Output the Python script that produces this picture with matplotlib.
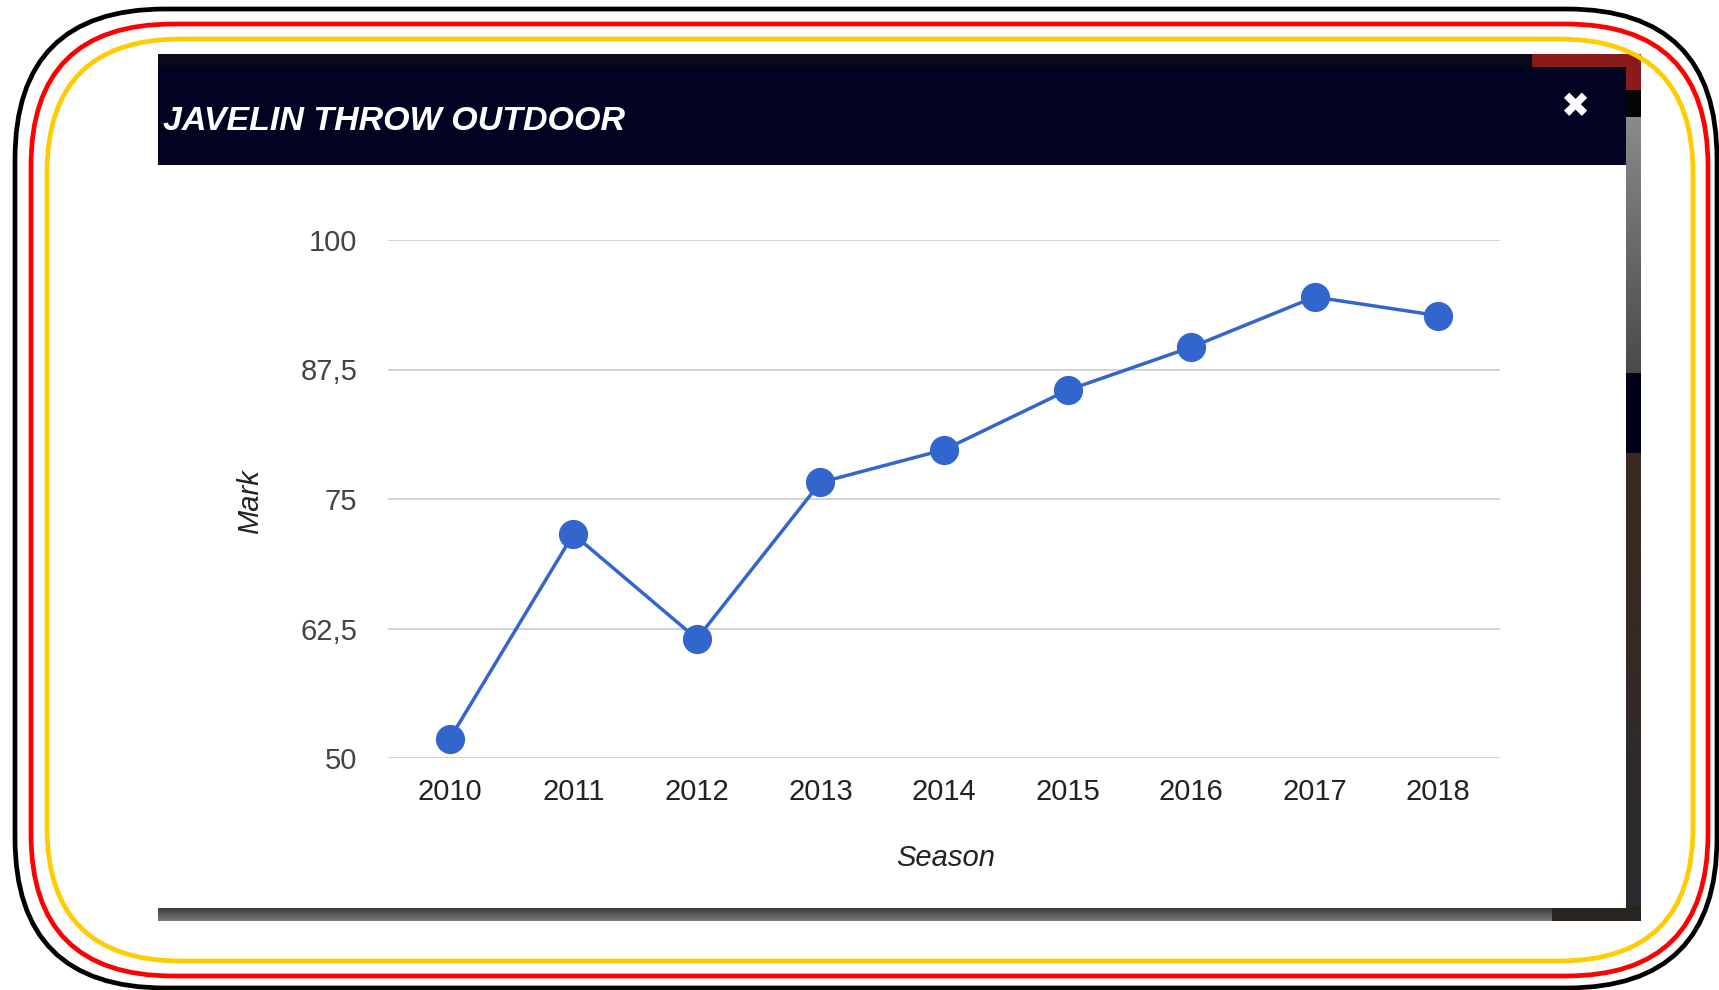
import numpy as np
import matplotlib
matplotlib.use("Agg")
import matplotlib.pyplot as plt
from matplotlib.patches import FancyBboxPatch, Rectangle
from matplotlib import font_manager

# ---------------- data ----------------
seasons = [2010, 2011, 2012, 2013, 2014, 2015, 2016, 2017, 2018]
marks = [51.85, 71.6, 61.5, 76.6, 79.75, 85.5, 89.65, 94.5, 92.7]
y_ticks = [50, 62.5, 75, 87.5, 100]
y_tick_labels = ["50", "62,5", "75", "87,5", "100"]
title_text = "JAVELIN THROW OUTDOOR"
x_title = "Season"
y_title = "Mark"

W, H = 1719, 990
fig = plt.figure(figsize=(W / 100, H / 100), dpi=100)
fig.patch.set_facecolor("white")

def has_font(name):
    try:
        font_manager.findfont(name, fallback_to_default=False)
        return True
    except Exception:
        return False

body_font = "Liberation Sans" if has_font("Liberation Sans") else "DejaVu Sans"
narrow = has_font("Liberation Sans Narrow")
title_font = "Liberation Sans Narrow" if narrow else body_font
title_size = 28 if narrow else 24.5

# ---------------- decoration layer (pixel coordinates) ----------------
bg = fig.add_axes([0, 0, 1, 1], zorder=0)
bg.set_xlim(0, W)
bg.set_ylim(H, 0)
bg.axis("off")

def rrect(x0, y0, x1, y1, r, color, lw):
    p = FancyBboxPatch((x0 + r, y0 + r), (x1 - x0) - 2 * r, (y1 - y0) - 2 * r,
                       boxstyle=f"round,pad={r}", fc="none", ec=color, lw=lw)
    bg.add_patch(p)

def rect(x0, y0, x1, y1, color, z=1):
    bg.add_patch(Rectangle((x0, y0), x1 - x0, y1 - y0, fc=color, ec="none", zorder=z))

def vgrad(x0, y0, x1, y1, c_top, c_bot, z=1):
    c_top = np.array(matplotlib.colors.to_rgb(c_top))
    c_bot = np.array(matplotlib.colors.to_rgb(c_bot))
    t = np.linspace(0, 1, 64)[:, None]
    img = (c_top * (1 - t) + c_bot * t)[:, None, :]
    bg.imshow(img, extent=(x0, x1, y1, y0), aspect="auto", zorder=z, interpolation="bilinear")

# page pieces behind the dialog
rect(158, 54, 1641, 67, "#0a0a1c")
rect(1532, 54, 1641, 90, "#8a1a1c")
rect(1626, 90, 1641, 117, "#050508")
vgrad(1626, 117, 1641, 373, "#8a8a8a", "#4a4a4a")
rect(1626, 373, 1641, 453, "#00001a")
vgrad(1626, 453, 1641, 921, "#3a2a1e", "#2a2a30")
vgrad(158, 908, 1641, 921, "#3c3c3c", "#7a7a7a")
rect(1552, 906, 1641, 921, "#2a2420")

# dialog
rect(158, 67, 1626, 165, "#020222", z=2)
rect(158, 165, 1626, 908, "#ffffff", z=2)
bg.set_xlim(0, W)
bg.set_ylim(H, 0)

# frames
rrect(15, 9, 1717, 988, 150, "black", 3.4)
rrect(31, 24, 1708, 976, 142, "#ff0000", 3.4)
rrect(47, 39, 1693, 961, 134, "#ffcc00", 3.4)

# header texts
fig.text(163 / W, 1 - 130 / H, title_text, color="white", fontsize=title_size,
         fontweight="bold", fontstyle="italic", family=title_font,
         va="baseline", ha="left", zorder=5)
fig.text(1575 / W, 1 - 107 / H, "\u2716", color="white", fontsize=25,
         family="DejaVu Sans", ha="center", va="center", zorder=5)

# ---------------- chart ----------------
ax = fig.add_axes([388 / W, 1 - 758 / H, (1500 - 388) / W, (758 - 240) / H], zorder=3)
ax.patch.set_alpha(0)
ax.plot(seasons, marks, color="#3366cc", lw=2.5, marker="o", markersize=20,
        markerfacecolor="#3366cc", markeredgecolor="#3366cc", zorder=3, clip_on=False)
ax.set_xlim(2009.5, 2018.5)
ax.set_ylim(50, 100)
ax.set_yticks(y_ticks)
ax.set_yticklabels(y_tick_labels)
ax.set_xticks(seasons)
ax.set_xticklabels([str(s) for s in seasons])
ax.grid(axis="y", color="#cccccc", lw=1.2)
ax.set_axisbelow(True)
for s in ax.spines.values():
    s.set_visible(False)
ax.tick_params(axis="y", length=0, pad=22, labelsize=21, labelcolor="#444444")
ax.tick_params(axis="x", length=0, pad=14.5, labelsize=21, labelcolor="#222222")
for lab in ax.get_xticklabels() + ax.get_yticklabels():
    lab.set_family(body_font)

fig.text(946 / W, 1 - 858 / H, x_title, fontsize=21, fontstyle="italic",
         family=body_font, color="#222222", ha="center", va="center", zorder=5)
fig.text(250 / W, 1 - 502 / H, y_title, fontsize=21, fontstyle="italic",
         family=body_font, color="#222222", ha="center", va="center",
         rotation=90, zorder=5)

fig.savefig("out.png", dpi=100, facecolor="white")
